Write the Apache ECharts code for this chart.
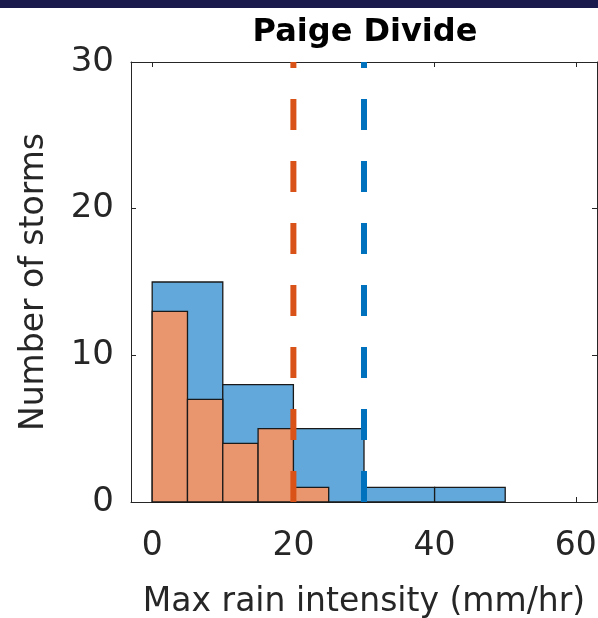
<!DOCTYPE html>
<html>
<head>
<meta charset="utf-8">
<script src="https://cdn.jsdelivr.net/npm/echarts@6/dist/echarts.min.js"></script>
<style>
html,body{margin:0;padding:0;background:#fff;}
#chart{width:598px;height:618px;}
</style>
</head>
<body>
<div id="chart"></div>
<script>
// Data
const chartTitle = 'Paige Divide';
const xAxisTitle = 'Max rain intensity (mm/hr)';
const yAxisTitle = 'Number of storms';
const blueEdges = [0, 10, 20, 30, 40, 50];
const blueCounts = [15, 8, 5, 1, 1];
const orangeEdges = [0, 5, 10, 15, 20, 25];
const orangeCounts = [13, 7, 4, 5, 1];
const orangeThreshold = 20;
const blueThreshold = 30;
const xTickValues = [0, 20, 40, 60];
const yTickValues = [0, 10, 20, 30];

function binsToData(edges, counts) {
  return counts.map((c, i) => [edges[i], edges[i + 1], c]);
}

const FONT = 'DejaVu Sans';
const TXT = '#262626';
const AX = '#262626';

function histItem(fill) {
  return function (params, api) {
    const p0 = api.coord([api.value(0), api.value(2)]);
    const p1 = api.coord([api.value(1), 0]);
    return {
      type: 'rect',
      shape: { x: p0[0], y: p0[1], width: p1[0] - p0[0], height: p1[1] - p0[1] },
      style: { fill: fill, stroke: '#1a1a1a', lineWidth: 1.3 }
    };
  };
}

const chart = echarts.init(document.getElementById('chart'), null, { renderer: 'canvas' });
chart.setOption({
  backgroundColor: '#ffffff',
  animation: false,
  graphic: [{
    type: 'rect', left: 0, top: 0, z: 100,
    shape: { width: 598, height: 8 },
    style: { fill: '#1a1b4c' }
  }],
  title: {
    text: chartTitle, left: 360, top: 12, textAlign: 'center',
    textStyle: { fontFamily: FONT, fontSize: 32, fontWeight: 'bold', color: '#000' }
  },
  grid: { left: 131, top: 62, right: 1, bottom: 116, containLabel: false, outerBoundsMode: 'none' },
  xAxis: [{
    type: 'value', min: -3, max: 63, position: 'bottom',
    axisLine: { show: true, onZero: false, lineStyle: { color: AX, width: 1 } },
    axisTick: { show: true, inside: true, length: 5, lineStyle: { color: AX }, customValues: xTickValues },
    axisLabel: { fontFamily: FONT, fontSize: 33, color: TXT, margin: 28, customValues: xTickValues },
    splitLine: { show: false },
    name: xAxisTitle, nameLocation: 'middle', nameGap: 84,
    nameTextStyle: { fontFamily: FONT, fontSize: 33, color: TXT }
  }, {
    type: 'value', min: -3, max: 63, position: 'top',
    axisLine: { show: true, onZero: false, lineStyle: { color: AX, width: 1 } },
    axisTick: { show: true, inside: true, length: 5, lineStyle: { color: AX }, customValues: xTickValues },
    axisLabel: { show: false },
    splitLine: { show: false }
  }],
  yAxis: [{
    type: 'value', min: 0, max: 30, interval: 10, position: 'left',
    axisLine: { show: true, onZero: false, lineStyle: { color: AX, width: 1 } },
    axisTick: { show: true, inside: true, length: 5, lineStyle: { color: AX } },
    axisLabel: { fontFamily: FONT, fontSize: 34, color: TXT, margin: 17, customValues: yTickValues },
    splitLine: { show: false },
    name: yAxisTitle, nameLocation: 'middle', nameGap: 80, nameRotate: 90,
    nameTextStyle: { fontFamily: FONT, fontSize: 33, color: TXT }
  }, {
    type: 'value', min: 0, max: 30, interval: 10, position: 'right',
    axisLine: { show: true, onZero: false, lineStyle: { color: AX, width: 1 } },
    axisTick: { show: true, inside: true, length: 5, lineStyle: { color: AX } },
    axisLabel: { show: false },
    splitLine: { show: false }
  }],
  series: [{
    type: 'custom', name: 'all', xAxisIndex: 0, yAxisIndex: 0,
    renderItem: histItem('#62a8da'),
    encode: { x: [0, 1], y: 2 },
    data: binsToData(blueEdges, blueCounts), z: 2
  }, {
    type: 'custom', name: 'subset', xAxisIndex: 0, yAxisIndex: 0,
    renderItem: histItem('#e9966f'),
    encode: { x: [0, 1], y: 2 },
    data: binsToData(orangeEdges, orangeCounts), z: 3
  }, {
    type: 'line', xAxisIndex: 0, yAxisIndex: 0, symbol: 'none', z: 5,
    lineStyle: { color: '#d95319', width: 6, type: [31, 31], cap: 'butt' },
    data: [[orangeThreshold, 0], [orangeThreshold, 30]]
  }, {
    type: 'line', xAxisIndex: 0, yAxisIndex: 0, symbol: 'none', z: 5,
    lineStyle: { color: '#0072bd', width: 6, type: [31, 31], cap: 'butt' },
    data: [[blueThreshold, 0], [blueThreshold, 30]]
  }]
});
</script>
</body>
</html>
